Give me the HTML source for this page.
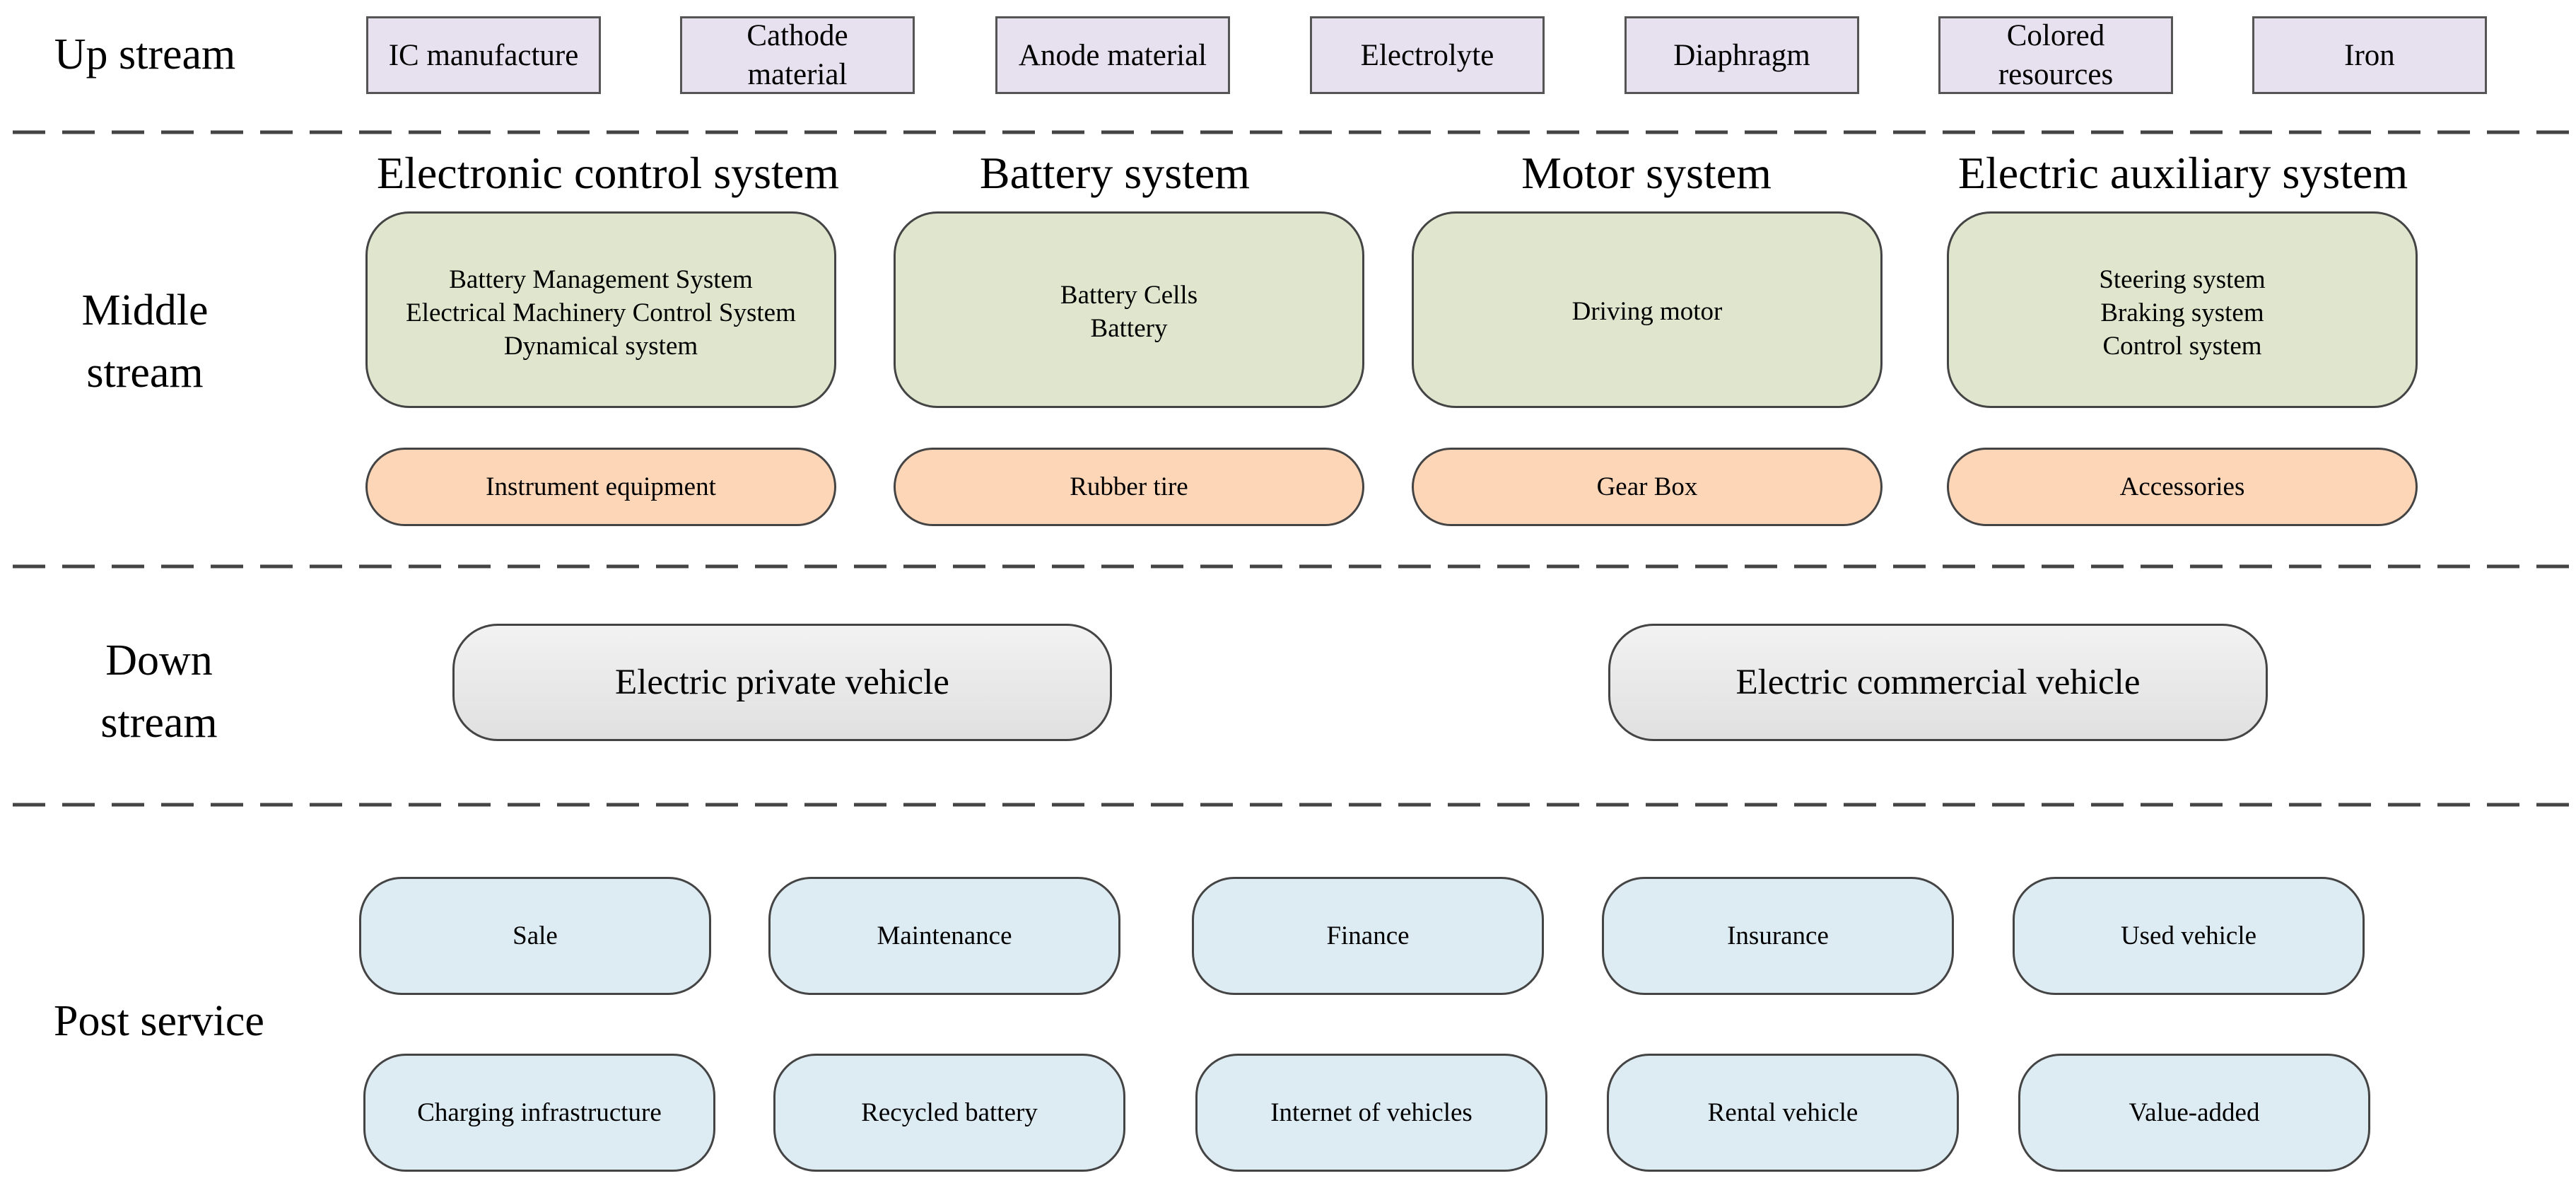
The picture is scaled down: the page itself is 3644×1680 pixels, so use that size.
<!DOCTYPE html>
<html><head><meta charset="utf-8"><style>
body{margin:0;width:3644px;height:1680px;background:#fff;position:relative;overflow:hidden;font-family:"Liberation Serif",serif;color:#000}
.a{position:absolute;box-sizing:border-box;display:flex;align-items:center;justify-content:center;text-align:center}
.lbl{font-size:62px;line-height:88px;flex-direction:column}
.up{background:#e7e1ef;border:3px solid #555;font-size:43px;line-height:55px;top:23px;height:110px;width:332px}
.hd{font-size:64px;white-space:nowrap}
.g{background:#dfe6cd;border:3px solid #444;border-radius:62px;font-size:37px;line-height:47px;top:299px;height:278px;width:666px;align-items:flex-start;padding-top:70px}
.o{background:#fdd6b8;border:3px solid #444;border-radius:56px;font-size:37px;top:633px;height:111px;width:666px}
.d{background:linear-gradient(#f2f2f2,#e0e0e0);border:3px solid #444;border-radius:64px;font-size:51px;top:882px;height:166px;width:933px}
.b{background:#ddebf2;border:3px solid #444;border-radius:60px;font-size:37px;height:167px;width:498px}
.r1{top:1240px}.r2{top:1490px}
svg{position:absolute;left:0;top:0}
</style></head><body>
<svg width="3644" height="1680"><g stroke="#444" stroke-width="5" stroke-dasharray="46 24">
<line x1="18" y1="187" x2="3640" y2="187"/><line x1="18" y1="801" x2="3640" y2="801"/><line x1="18" y1="1138" x2="3640" y2="1138"/></g></svg>

<div class="a lbl" style="left:20px;top:33px;width:370px;height:88px">Up stream</div>
<div class="a lbl" style="left:20px;top:395px;width:370px;height:176px">Middle<br>stream</div>
<div class="a lbl" style="left:40px;top:890px;width:370px;height:176px">Down<br>stream</div>
<div class="a lbl" style="left:20px;top:1400px;width:410px;height:88px">Post service</div>

<div class="a up" style="left:518px">IC manufacture</div>
<div class="a up" style="left:962px">Cathode<br>material</div>
<div class="a up" style="left:1408px">Anode material</div>
<div class="a up" style="left:1853px">Electrolyte</div>
<div class="a up" style="left:2298px">Diaphragm</div>
<div class="a up" style="left:2742px">Colored<br>resources</div>
<div class="a up" style="left:3186px">Iron</div>

<div class="a hd" style="left:460px;top:205px;width:800px;height:80px">Electronic control system</div>
<div class="a hd" style="left:1177px;top:205px;width:800px;height:80px">Battery system</div>
<div class="a hd" style="left:1929px;top:205px;width:800px;height:80px">Motor system</div>
<div class="a hd" style="left:2688px;top:205px;width:800px;height:80px">Electric auxiliary system</div>

<div class="a g" style="left:517px">Battery Management System<br>Electrical Machinery Control System<br>Dynamical system</div>
<div class="a g" style="left:1264px;padding-top:92px">Battery Cells<br>Battery</div>
<div class="a g" style="left:1997px;padding-top:115px">Driving motor</div>
<div class="a g" style="left:2754px">Steering system<br>Braking system<br>Control system</div>

<div class="a o" style="left:517px">Instrument equipment</div>
<div class="a o" style="left:1264px">Rubber tire</div>
<div class="a o" style="left:1997px">Gear Box</div>
<div class="a o" style="left:2754px">Accessories</div>

<div class="a d" style="left:640px">Electric private vehicle</div>
<div class="a d" style="left:2275px">Electric commercial vehicle</div>

<div class="a b r1" style="left:508px">Sale</div>
<div class="a b r1" style="left:1087px">Maintenance</div>
<div class="a b r1" style="left:1686px">Finance</div>
<div class="a b r1" style="left:2266px">Insurance</div>
<div class="a b r1" style="left:2847px">Used vehicle</div>
<div class="a b r2" style="left:514px">Charging infrastructure</div>
<div class="a b r2" style="left:1094px">Recycled battery</div>
<div class="a b r2" style="left:1691px">Internet of vehicles</div>
<div class="a b r2" style="left:2273px">Rental vehicle</div>
<div class="a b r2" style="left:2855px">Value-added</div>
</body></html>
